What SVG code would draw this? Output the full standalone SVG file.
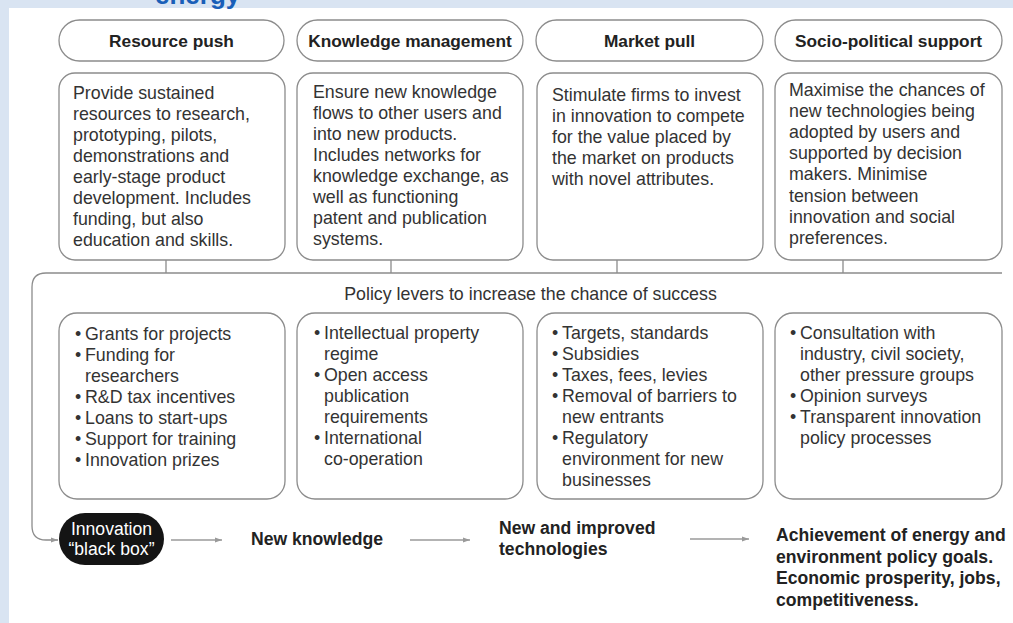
<svg xmlns="http://www.w3.org/2000/svg" width="1013" height="623" viewBox="0 0 1013 623">
<defs>
<style>
.bg{fill:#d9e4f2}
.panel{fill:#ffffff}
.box{fill:#ffffff;stroke:#8c8c8c;stroke-width:1.3}
.hd{font-family:"Liberation Sans",Arial,sans-serif;font-size:17.3px;font-weight:bold;fill:#222;text-anchor:middle}
.tx{font-family:"Liberation Sans",Arial,sans-serif;font-size:17.8px;fill:#333}
.bt{font-family:"Liberation Sans",Arial,sans-serif;font-size:17.6px;font-weight:bold;fill:#222}
.wt{font-family:"Liberation Sans",Arial,sans-serif;font-size:17.6px;fill:#ffffff;text-anchor:middle}
.ln{fill:none;stroke:#8c8c8c;stroke-width:1.3}
.ar{fill:none;stroke:#9a9a9a;stroke-width:1.3}
</style>
<marker id="ah" viewBox="0 0 8 8" refX="7" refY="4" markerWidth="8" markerHeight="8" markerUnits="userSpaceOnUse" orient="auto">
<path d="M0,1.5 L7,4 L0,6.5 Z" fill="#9a9a9a"/>
</marker>
</defs>
<rect class="bg" x="0" y="0" width="1013" height="623"/>
<rect class="panel" x="9" y="8" width="1004" height="615"/>
<text x="155" y="3.5" font-family="Liberation Sans,Arial,sans-serif" font-size="26" font-weight="bold" fill="#1a5fb8">energy</text>

<g id="connectors">
<path class="ln" d="M166,260 V273 M391,260 V273 M617,260 V273 M843,260 V273"/>
<path class="ln" d="M1002,273 H46 Q32,273 32,287 V526 Q32,540 46,540 H58" marker-end="url(#ah)"/>
<path class="ar" d="M171,540 H222" marker-end="url(#ah)"/>
<path class="ar" d="M410,540 H470" marker-end="url(#ah)"/>
<path class="ar" d="M690,539 H749" marker-end="url(#ah)"/>
</g>

<g id="hdr-resource-push">
<rect class="box" x="59" y="20" width="225" height="41" rx="20.5"/>
<text class="hd" x="171.5" y="46.5">Resource push</text>
</g>
<g id="hdr-knowledge-management">
<rect class="box" x="297" y="20" width="226" height="41" rx="20.5"/>
<text class="hd" x="410" y="46.5">Knowledge management</text>
</g>
<g id="hdr-market-pull">
<rect class="box" x="536" y="20" width="227" height="41" rx="20.5"/>
<text class="hd" x="649.5" y="46.5">Market pull</text>
</g>
<g id="hdr-socio-political">
<rect class="box" x="775" y="20" width="227" height="41" rx="20.5"/>
<text class="hd" x="888.5" y="46.5">Socio-political support</text>
</g>

<g id="desc-resource-push">
<rect class="box" x="59" y="73" width="226" height="187" rx="16"/>
<text class="tx" x="73" y="99">Provide sustained</text>
<text class="tx" x="73" y="120">resources to research,</text>
<text class="tx" x="73" y="141">prototyping, pilots,</text>
<text class="tx" x="73" y="162">demonstrations and</text>
<text class="tx" x="73" y="183">early-stage product</text>
<text class="tx" x="73" y="204">development. Includes</text>
<text class="tx" x="73" y="225">funding, but also</text>
<text class="tx" x="73" y="246">education and skills.</text>
</g>
<g id="desc-knowledge-management">
<rect class="box" x="297" y="73" width="226" height="187" rx="16"/>
<text class="tx" x="313" y="97.5">Ensure new knowledge</text>
<text class="tx" x="313" y="118.5">flows to other users and</text>
<text class="tx" x="313" y="139.5">into new products.</text>
<text class="tx" x="313" y="160.5">Includes networks for</text>
<text class="tx" x="313" y="181.5">knowledge exchange, as</text>
<text class="tx" x="313" y="202.5">well as functioning</text>
<text class="tx" x="313" y="223.5">patent and publication</text>
<text class="tx" x="313" y="244.5">systems.</text>
</g>
<g id="desc-market-pull">
<rect class="box" x="537" y="73" width="226" height="187" rx="16"/>
<text class="tx" x="552" y="100.5">Stimulate firms to invest</text>
<text class="tx" x="552" y="121.5">in innovation to compete</text>
<text class="tx" x="552" y="142.5">for the value placed by</text>
<text class="tx" x="552" y="163.5">the market on products</text>
<text class="tx" x="552" y="184.5">with novel attributes.</text>
</g>
<g id="desc-socio-political">
<rect class="box" x="775" y="73" width="227" height="187" rx="16"/>
<text class="tx" x="789" y="95.5">Maximise the chances of</text>
<text class="tx" x="789" y="116.7">new technologies being</text>
<text class="tx" x="789" y="137.9">adopted by users and</text>
<text class="tx" x="789" y="159.1">supported by decision</text>
<text class="tx" x="789" y="180.3">makers. Minimise</text>
<text class="tx" x="789" y="201.5">tension between</text>
<text class="tx" x="789" y="222.7">innovation and social</text>
<text class="tx" x="789" y="243.9">preferences.</text>
</g>

<g id="policy-label">
<text class="tx" x="530.5" y="300" text-anchor="middle">Policy levers to increase the chance of success</text>
</g>

<g id="levers-resource-push">
<rect class="box" x="59" y="313" width="226" height="186" rx="18"/>
<text class="tx" x="75" y="340">•</text><text class="tx" x="85" y="340">Grants for projects</text>
<text class="tx" x="75" y="361">•</text><text class="tx" x="85" y="361">Funding for</text>
<text class="tx" x="85" y="382">researchers</text>
<text class="tx" x="75" y="403">•</text><text class="tx" x="85" y="403">R&amp;D tax incentives</text>
<text class="tx" x="75" y="424">•</text><text class="tx" x="85" y="424">Loans to start-ups</text>
<text class="tx" x="75" y="445">•</text><text class="tx" x="85" y="445">Support for training</text>
<text class="tx" x="75" y="466">•</text><text class="tx" x="85" y="466">Innovation prizes</text>
</g>
<g id="levers-knowledge-management">
<rect class="box" x="297" y="313" width="226" height="186" rx="18"/>
<text class="tx" x="314" y="339">•</text><text class="tx" x="324" y="339">Intellectual property</text>
<text class="tx" x="324" y="360">regime</text>
<text class="tx" x="314" y="381">•</text><text class="tx" x="324" y="381">Open access</text>
<text class="tx" x="324" y="402">publication</text>
<text class="tx" x="324" y="423">requirements</text>
<text class="tx" x="314" y="444">•</text><text class="tx" x="324" y="444">International</text>
<text class="tx" x="324" y="465">co-operation</text>
</g>
<g id="levers-market-pull">
<rect class="box" x="537" y="313" width="226" height="186" rx="18"/>
<text class="tx" x="552" y="339">•</text><text class="tx" x="562" y="339">Targets, standards</text>
<text class="tx" x="552" y="360">•</text><text class="tx" x="562" y="360">Subsidies</text>
<text class="tx" x="552" y="381">•</text><text class="tx" x="562" y="381">Taxes, fees, levies</text>
<text class="tx" x="552" y="402">•</text><text class="tx" x="562" y="402">Removal of barriers to</text>
<text class="tx" x="562" y="423">new entrants</text>
<text class="tx" x="552" y="444">•</text><text class="tx" x="562" y="444">Regulatory</text>
<text class="tx" x="562" y="465">environment for new</text>
<text class="tx" x="562" y="486">businesses</text>
</g>
<g id="levers-socio-political">
<rect class="box" x="775" y="313" width="227" height="186" rx="18"/>
<text class="tx" x="790" y="339">•</text><text class="tx" x="800" y="339">Consultation with</text>
<text class="tx" x="800" y="360">industry, civil society,</text>
<text class="tx" x="800" y="381">other pressure groups</text>
<text class="tx" x="790" y="402">•</text><text class="tx" x="800" y="402">Opinion surveys</text>
<text class="tx" x="790" y="423">•</text><text class="tx" x="800" y="423">Transparent innovation</text>
<text class="tx" x="800" y="444">policy processes</text>
</g>

<g id="black-box">
<rect x="59" y="513" width="105" height="52" rx="26" fill="#141414"/>
<text class="wt" x="111.5" y="535">Innovation</text>
<text class="wt" x="111.5" y="555">“black box”</text>
</g>
<g id="new-knowledge">
<text class="bt" x="251" y="544.5">New knowledge</text>
</g>
<g id="new-technologies">
<text class="bt" x="499" y="534">New and improved</text>
<text class="bt" x="499" y="555">technologies</text>
</g>
<g id="outcomes">
<text class="bt" x="776" y="541">Achievement of energy and</text>
<text class="bt" x="776" y="562.5">environment policy goals.</text>
<text class="bt" x="776" y="584">Economic prosperity, jobs,</text>
<text class="bt" x="776" y="605.5">competitiveness.</text>
</g>
</svg>
